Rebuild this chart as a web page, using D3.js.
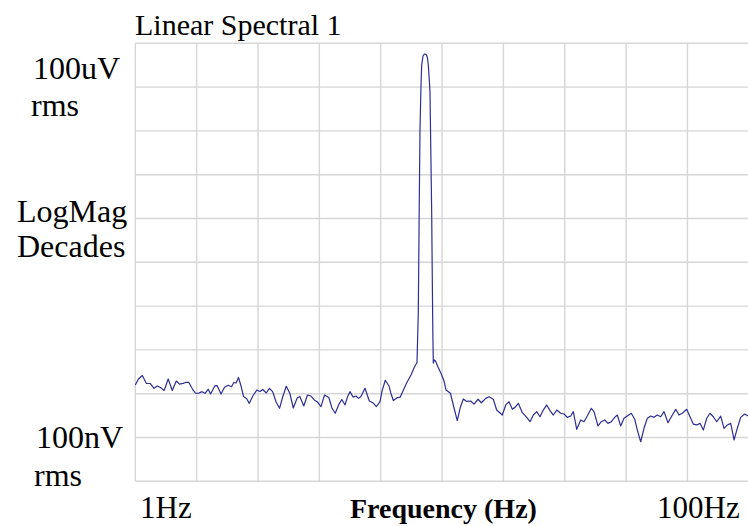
<!DOCTYPE html>
<html><head><meta charset="utf-8">
<script src="https://cdn.jsdelivr.net/npm/d3@7"></script>
<style>
body{margin:0;background:#fff}
svg{display:block}
text{font-family:"Liberation Serif","Times New Roman",Times,serif;fill:#000}
</style>
</head><body>
<svg id="chart" width="748" height="526"></svg>
<script>
// Frequency of each trace point (Hz)
const freqHz = [1.000,1.024,1.054,1.086,1.118,1.151,1.179,1.208,1.242,1.280,1.320,1.360,1.393,1.431,1.458,1.495,1.536,1.572,1.607,1.650,
1.688,1.729,1.759,1.816,1.849,1.903,1.954,2.008,2.059,2.095,2.130,2.170,2.211,2.253,2.304,2.353,2.416,2.489,2.550,2.604,
2.673,2.738,2.807,2.875,2.952,3.030,3.106,3.189,3.274,3.371,3.438,3.542,3.642,3.739,3.833,3.926,4.031,4.139,4.275,4.379,
4.485,4.615,4.713,4.827,4.919,5.011,5.125,5.242,5.341,5.442,5.608,5.792,5.969,6.105,6.277,6.372,6.531,6.715,6.806,6.935,
7.119,7.309,7.459,7.657,7.920,8.131,8.285,8.367,8.430,8.474,8.538,8.583,8.667,8.765,8.884,8.965,9.019,9.087,9.135,9.190,
9.252,9.294,9.329,9.365,9.428,9.520,9.700,9.959,10.15,10.30,10.65,10.94,11.21,11.48,11.73,12.03,12.40,12.71,13.10,13.43,
13.88,14.23,14.69,15.07,15.72,16.13,16.53,16.95,17.38,17.73,18.27,18.88,19.36,19.84,20.35,20.86,21.38,21.94,22.49,23.05,
23.65,24.37,24.98,25.61,26.27,26.79,27.48,28.31,29.02,29.75,30.66,31.29,32.25,33.05,33.91,34.75,35.63,36.55,37.27,38.23,
39.19,40.17,41.40,42.47,43.31,44.43,45.54,46.68,47.89,49.09,50.32,51.62,52.92,54.53,55.90,57.78,59.23,60.71,62.75,64.32,
65.93,67.64,69.34,71.08,72.91,74.74,76.61,78.59,80.99,83.03,85.11,87.31,89.50,91.73,94.10,96.97,99.40];

// Log magnitude, decades re 1 V rms (log10 of V rms)
const logMag = [-6.340,-6.299,-6.275,-6.329,-6.330,-6.363,-6.347,-6.358,-6.378,-6.299,-6.378,-6.313,-6.334,-6.329,-6.323,-6.323,-6.368,-6.397,-6.397,-6.386,
-6.397,-6.369,-6.402,-6.347,-6.345,-6.402,-6.356,-6.342,-6.352,-6.323,-6.327,-6.289,-6.347,-6.419,-6.433,-6.466,-6.416,-6.375,-6.385,-6.371,
-6.395,-6.363,-6.388,-6.455,-6.500,-6.416,-6.349,-6.397,-6.498,-6.429,-6.419,-6.484,-6.409,-6.416,-6.443,-6.457,-6.489,-6.409,-6.426,-6.500,
-6.534,-6.471,-6.440,-6.477,-6.421,-6.386,-6.423,-6.416,-6.432,-6.419,-6.363,-6.450,-6.464,-6.488,-6.455,-6.382,-6.308,-6.347,-6.395,-6.447,
-6.429,-6.423,-6.382,-6.329,-6.272,-6.217,-6.186,-5.847,-5.073,-4.594,-4.286,-4.149,-4.087,-4.073,-4.077,-4.101,-4.149,-4.251,-4.334,-4.731,
-5.162,-5.621,-5.964,-6.190,-6.169,-6.176,-6.217,-6.268,-6.313,-6.375,-6.397,-6.498,-6.584,-6.491,-6.436,-6.453,-6.450,-6.471,-6.438,-6.462,
-6.432,-6.421,-6.438,-6.512,-6.546,-6.477,-6.455,-6.507,-6.489,-6.466,-6.530,-6.562,-6.592,-6.546,-6.523,-6.558,-6.512,-6.477,-6.516,-6.546,
-6.512,-6.534,-6.539,-6.562,-6.553,-6.523,-6.644,-6.580,-6.592,-6.553,-6.500,-6.523,-6.621,-6.592,-6.580,-6.603,-6.592,-6.562,-6.546,-6.621,
-6.568,-6.553,-6.534,-6.575,-6.649,-6.729,-6.637,-6.568,-6.553,-6.562,-6.546,-6.558,-6.523,-6.599,-6.558,-6.507,-6.546,-6.534,-6.507,-6.558,
-6.608,-6.614,-6.603,-6.649,-6.568,-6.534,-6.558,-6.592,-6.553,-6.637,-6.614,-6.603,-6.717,-6.637,-6.562,-6.539,-6.553];

// Axis extents and grid
const freqDomain = [1, 100];          // Hz (log)
const magDomain = [-7, -4];           // decades
const xGridDecadeSteps = [0, 0.2, 0.4, 0.6, 0.8, 1.0, 1.2, 1.4, 1.6, 1.8, 2.0];
const yGridLevels = [-7, -6.7, -6.4, -6.1, -5.8, -5.5, -5.2, -4.9, -4.6, -4.3, -4];

// Text
const titleText = "Linear Spectral 1";
const xStartLabel = "1Hz";
const xEndLabel = "100Hz";
const xAxisTitle = "Frequency (Hz)";
const yTopLabel = ["100uV", "rms"];
const yMidLabel = ["LogMag", "Decades"];
const yBottomLabel = ["100nV", "rms"];

const svg = d3.select("#chart");
const L = 135.3, R = 748.8, T = 43.3, B = 481.3;
const x = d3.scaleLog().domain(freqDomain).range([L, R]);
const y = d3.scaleLinear().domain(magDomain).range([B, T]);

svg.append("rect").attr("width", 748).attr("height", 526).attr("fill", "#fff");

const grid = svg.append("g").attr("stroke", "#d6d6d6").attr("stroke-width", 1.4);
grid.selectAll("line.v").data(xGridDecadeSteps).join("line").attr("class", "v")
  .attr("x1", d => x(Math.pow(10, d))).attr("x2", d => x(Math.pow(10, d)))
  .attr("y1", T).attr("y2", B);
grid.selectAll("line.h").data(yGridLevels).join("line").attr("class", "h")
  .attr("x1", L).attr("x2", R)
  .attr("y1", d => y(d)).attr("y2", d => y(d));

const pts = freqHz.map((f, i) => ({f, m: logMag[i]}));
const line = d3.line().x(d => x(d.f)).y(d => y(d.m));
svg.append("path").datum(pts).attr("d", line)
  .attr("fill", "none").attr("stroke", "#2e2e96").attr("stroke-width", 1.2)
  .attr("stroke-linejoin", "round");

svg.append("text").attr("x", 135).attr("y", 35).attr("font-size", 30).text(titleText);

const lab = (t, xx, yy, size, weight) => svg.append("text")
  .attr("x", xx).attr("y", yy).attr("font-size", size)
  .attr("font-weight", weight || "normal").text(t);

lab(yTopLabel[0], 33, 79, 32);
lab(yTopLabel[1], 31, 116, 32);
lab(yMidLabel[0], 17, 222, 32);
lab(yMidLabel[1], 17, 257, 32);
lab(yBottomLabel[0], 36, 448, 32);
lab(yBottomLabel[1], 34, 486, 32);
lab(xStartLabel, 140, 518, 31);
lab(xAxisTitle, 350, 518, 28, "bold");
lab(xEndLabel, 657, 518, 31);
</script>
</body></html>
